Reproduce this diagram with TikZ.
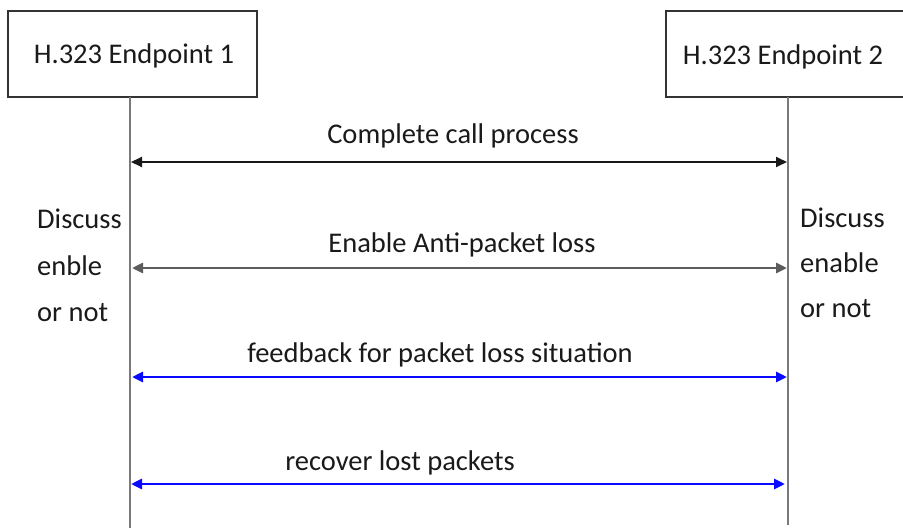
\documentclass[tikz,border=0pt]{standalone}
\usepackage{fontspec}
\setmainfont{Carlito}
\usetikzlibrary{arrows.meta}
\definecolor{txt}{HTML}{1A1A1A}
\definecolor{boxline}{HTML}{333333}
\definecolor{life}{HTML}{7A7A7A}
\definecolor{msggray}{HTML}{5C5C5C}
\definecolor{msgblue}{HTML}{0A0AFF}
\tikzset{
  lbl/.style={font=\fontsize{28.5}{30}\selectfont, text=txt, inner sep=0pt, anchor=base},
  sidelbl/.style={font=\fontsize{28.5}{30}\selectfont, text=txt, inner sep=0pt, anchor=base west},
  boxframe/.style={draw=boxline, line width=1.8pt},
  lifeline/.style={draw=life, line width=2.8pt},
  tip/.style={{Triangle[length=11pt,width=10pt]}-{Triangle[length=11pt,width=10pt]}},
  msgblack/.style={tip, draw=black!90, fill=black!90, line width=1.8pt},
  msggrey/.style={tip, draw=msggray, line width=2.8pt},
  msgb/.style={tip, draw=msgblue, line width=2.8pt},
}
\begin{document}
\begin{tikzpicture}[x=1pt,y=-1pt]
\useasboundingbox (0,0) rectangle (903,528);
\clip (0,0) rectangle (903,528);
\fill[white] (0,0) rectangle (903,528);

% boxes
\draw[boxframe] (8,11) rectangle (257,97);
\draw[boxframe] (666,11) rectangle (925,97);
\node[lbl] (t1) at (134,63) {H.323 Endpoint 1};
\node[lbl] (t2) at (783,64) {H.323 Endpoint 2};

% lifelines
\coordinate (l1top) at (130,97);
\coordinate (l1bot) at (130,528);
\coordinate (l2top) at (788,97);
\coordinate (l2bot) at (788,525);
\draw[lifeline] (l1top) -- (l1bot);
\draw[lifeline] (l2top) -- (l2bot);

% message anchors on lifelines
\coordinate (a1) at (131,162);  \coordinate (b1) at (787,162);
\coordinate (a2) at (132,268);  \coordinate (b2) at (787,268);
\coordinate (a3) at (132,377);  \coordinate (b3) at (787,377);
\coordinate (a4) at (131,484);  \coordinate (b4) at (785,484);

\draw[msgblack] (a1) -- (b1);
\draw[msggrey] (a2) -- (b2);
\draw[msgb] (a3) -- (b3);
\draw[msgb] (a4) -- (b4);

% message labels
\node[lbl] (m1) at (453,143) {Complete call process};
\node[lbl] (m2) at (462,252) {Enable Anti-packet loss};
\node[lbl] (m3) at (440,362) {feedback for packet loss situation};
\node[lbl] (m4) at (400,470) {recover lost packets};

% side labels
\node[sidelbl] (d1) at (37,228) {Discuss};
\node[sidelbl] (d2) at (37,275) {enble};
\node[sidelbl] (d3) at (37,321) {or not};
\node[sidelbl] (e1) at (800,227) {Discuss};
\node[sidelbl] (e2) at (800,272) {enable};
\node[sidelbl] (e3) at (800,317) {or not};
\end{tikzpicture}
\end{document}
